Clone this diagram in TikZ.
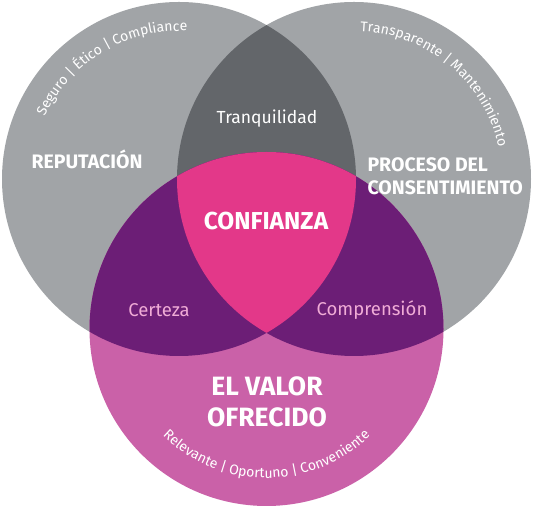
\documentclass[tikz,border=0pt]{standalone}
\usepackage{fontspec}
\setmainfont{Fira Sans}
\usetikzlibrary{decorations.text,positioning}
\definecolor{gris}{RGB}{161,164,167}
\definecolor{grisfonce}{RGB}{99,102,106}
\definecolor{rose}{RGB}{227,56,137}
\definecolor{violet}{RGB}{108,30,118}
\definecolor{mauve}{RGB}{202,97,168}
\definecolor{roseclair}{RGB}{240,172,214}
\def\rayon{177pt}
\tikzset{%
	% Specifications for style of nodes:
	titre/.style = {text=white, font=\bfseries\fontsize{19.5}{23}\selectfont},
	grand/.style = {text=white, font=\bfseries\fontsize{26.5}{31}\selectfont, align=center},
	centre/.style = {grand, font=\bfseries\fontsize{24.5}{31}\selectfont},
	zone/.style = {text=white, font=\fontsize{17.5}{17.5}\selectfont},
	zonec/.style = {text=roseclair, font=\fontsize{18.5}{18.5}\selectfont},
	% curved texts along the circles
	courbe/.style = {decorate, decoration={text along path, text align=center,
	text color=white, text format delimiters={[}{]},
	text={[\fontsize{14}{14}\selectfont]#1}}}
}

\begin{document}
\begin{tikzpicture}[x=1pt,y=1pt]
		\useasboundingbox (0,0) rectangle (533,510);
		% centres of the three circles
		\coordinate (cl) at (179,331);
		\coordinate (cr) at (354,331);
		\coordinate (cb) at (266.5,181);
		
		\fill[gris] (cl) circle[radius=\rayon];
		\fill[gris] (cr) circle[radius=\rayon];
		\begin{scope}
			\clip (cl) circle[radius=\rayon];
			\fill[grisfonce] (cr) circle[radius=\rayon];
		\end{scope}
		\fill[mauve] (cb) circle[radius=\rayon];
		\begin{scope}
			\clip (cb) circle[radius=\rayon];
			\fill[violet] (cl) circle[radius=\rayon];
			\fill[violet] (cr) circle[radius=\rayon];
			\clip (cl) circle[radius=\rayon];
			\fill[rose] (cr) circle[radius=\rayon];
		\end{scope}
		
		% Specification of nodes (position, etc.)
		\node (rep)    [titre] at (87,351)  {REPUTACIÓN};
		\node (proc)   [titre, anchor=west, align=left] at (364,334) {PROCESO DEL\\CONSENTIMIENTO};
		\node (valor)  [grand] at (267,108) {EL VALOR\\OFRECIDO};
		\node (tranq)  [zone] at (267,391) {Tranquilidad};
		\node (conf)   [centre] at (266,289) {CONFIANZA};
		\node (cert)   [zonec] at (159,200) {Certeza};
		\node (compr)  [zonec] at (372,200) {Comprensión};
		
		\path[courbe={Seguro | Ético | Compliance}] (cl) ++(165:148pt) arc[start angle=165, end angle=77, radius=148pt];
		\path[courbe={Transparente | Mantenimiento}] (cr) ++(98:148pt) arc[start angle=98, end angle=2, radius=148pt];
		\path[courbe={Relevante | Oportuno | Conveniente}] (cb) ++(215:149pt) arc[start angle=215, end angle=325, radius=149pt];
		
\end{tikzpicture}
\end{document}
